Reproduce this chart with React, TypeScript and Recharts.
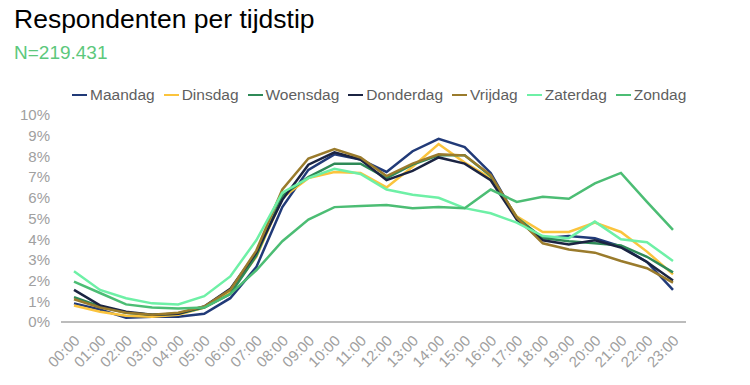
import React from "react";
import { LineChart, Line, XAxis, YAxis } from "recharts";

const hours = ["00:00","01:00","02:00","03:00","04:00","05:00","06:00","07:00","08:00","09:00","10:00","11:00","12:00","13:00","14:00","15:00","16:00","17:00","18:00","19:00","20:00","21:00","22:00","23:00"];

const maandag = [0.9,0.6,0.2,0.25,0.25,0.4,1.15,2.65,5.55,7.35,8.1,7.85,7.25,8.25,8.85,8.45,7.2,5.0,4.05,4.15,4.05,3.65,2.9,1.55];
const dinsdag = [0.8,0.5,0.3,0.25,0.35,0.7,1.45,3.15,6.0,6.95,7.25,7.2,6.5,7.5,8.6,7.7,6.95,5.1,4.35,4.35,4.8,4.35,3.4,2.3];
const woensdag = [1.2,0.75,0.45,0.35,0.4,0.7,1.35,3.2,6.1,7.0,7.65,7.65,6.95,7.6,8.05,8.05,7.05,5.05,4.05,3.9,3.8,3.7,3.15,2.4];
const donderdag = [1.55,0.8,0.5,0.35,0.4,0.75,1.6,3.35,5.9,7.6,8.2,7.85,6.85,7.3,7.95,7.65,6.85,4.95,3.95,3.75,3.95,3.6,2.9,2.0];
const vrijdag = [1.1,0.7,0.45,0.35,0.45,0.75,1.55,3.45,6.4,7.9,8.35,7.95,7.05,7.65,8.1,8.05,7.1,5.05,3.8,3.5,3.35,2.95,2.6,1.9];
const zaterdag = [2.45,1.55,1.15,0.9,0.85,1.25,2.2,3.95,6.25,6.95,7.4,7.15,6.4,6.15,6.0,5.5,5.25,4.8,4.15,4.05,4.85,4.0,3.85,2.95];
const zondag = [1.95,1.4,0.85,0.7,0.65,0.7,1.35,2.5,3.9,4.95,5.55,5.6,5.65,5.5,5.55,5.5,6.4,5.8,6.05,5.95,6.7,7.2,5.8,4.45];

const yTicks = [0,1,2,3,4,5,6,7,8,9,10];

const series = [
  { key: "Maandag", values: maandag, color: "#213a78" },
  { key: "Dinsdag", values: dinsdag, color: "#fbc43d" },
  { key: "Woensdag", values: woensdag, color: "#2f8a57" },
  { key: "Donderdag", values: donderdag, color: "#1b2442" },
  { key: "Vrijdag", values: vrijdag, color: "#9a7b2c" },
  { key: "Zaterdag", values: zaterdag, color: "#6ef0a6" },
  { key: "Zondag", values: zondag, color: "#4cbd74" },
];

const data = hours.map((h, i) => {
  const row: Record<string, string | number> = { hour: h };
  series.forEach((s) => { row[s.key] = s.values[i]; });
  return row;
});

const FONT = "'Liberation Sans', Arial, Helvetica, sans-serif";

const XTick = (props: any) => {
  const { x, y, payload } = props;
  return (
    <g transform={`translate(${x + 3},${y + 8}) rotate(-45)`}>
      <text x={0} y={0} dy="0.35em" textAnchor="end" fill="#a0a0a0" fontSize={15} fontFamily={FONT}>
        {payload.value}
      </text>
    </g>
  );
};

export default function App() {
  return (
    <div style={{ position: "absolute", left: 0, top: 0, width: 750, height: 385, background: "#fff", fontFamily: FONT }}>
      <svg width={750} height={70} style={{ position: "absolute", left: 0, top: 0 }}>
        <text x={14} y={28} fontSize={26.5} fill="#000" fontFamily={FONT}>Respondenten per tijdstip</text>
        <text x={14} y={59} fontSize={19} fill="#5cc87c" fontFamily={FONT}>N=219.431</text>
      </svg>
      <div style={{ position: "absolute", left: 72, top: 86, height: 18, display: "flex", alignItems: "center", gap: 9, fontSize: 15.5, color: "#5f5f5f", whiteSpace: "nowrap" }}>
        {series.map((s) => (
          <div key={s.key} style={{ display: "flex", alignItems: "center" }}>
            <span style={{ display: "inline-block", width: 15, height: 2.5, background: s.color, marginRight: 3 }} />
            <span>{s.key}</span>
          </div>
        ))}
      </div>
      <div style={{ position: "absolute", left: 0, top: 0 }}>
        <LineChart width={750} height={385} data={data} margin={{ top: 115, right: 64, bottom: 0, left: 0 }}>
          <XAxis
            dataKey="hour"
            interval={0}
            padding={{ left: 13, right: 13 }}
            tickLine={false}
            axisLine={{ stroke: "#a6a6a6", strokeWidth: 1.5 }}
            height={63}
            tick={<XTick />}
          />
          <YAxis
            domain={[0, 10]}
            ticks={yTicks}
            interval={0}
            width={61}
            axisLine={false}
            tickLine={false}
            tickSize={0}
            tickMargin={11}
            tickFormatter={(v: number) => `${v}%`}
            tick={{ fill: "#a0a0a0", fontSize: 15, fontFamily: FONT }}
          />
          {series.map((s) => (
            <Line
              key={s.key}
              type="linear"
              dataKey={s.key}
              stroke={s.color}
              strokeWidth={2.5}
              dot={false}
              activeDot={false}
              isAnimationActive={false}
            />
          ))}
        </LineChart>
      </div>
    </div>
  );
}
